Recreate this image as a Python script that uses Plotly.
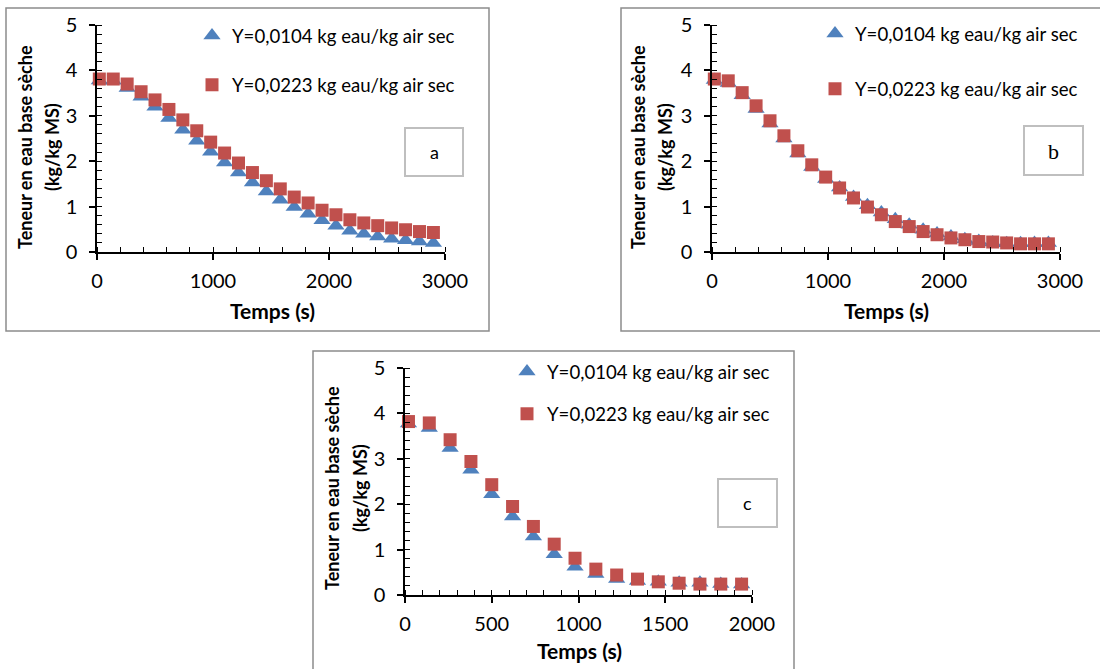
import plotly.graph_objects as go

W, H = 1100, 669


def px(x):
    return x / W


def py(y):
    return 1 - y / H


# ---------------- data ----------------
time_ab = [20, 140, 260, 380, 500, 620, 740, 860, 980, 1100, 1220, 1340, 1460,
           1580, 1700, 1820, 1940, 2060, 2180, 2300, 2420, 2540, 2660, 2780, 2900]
time_c = [20, 140, 260, 380, 500, 620, 740, 860, 980, 1100, 1220, 1340, 1460,
          1580, 1700, 1820, 1940]

a_low = [3.78, 3.77, 3.61, 3.42, 3.20, 2.95, 2.69, 2.45, 2.21, 1.97, 1.75, 1.53, 1.33,
         1.15, 0.99, 0.84, 0.70, 0.58, 0.47, 0.40, 0.34, 0.29, 0.26, 0.23, 0.20]
a_high = [3.81, 3.81, 3.70, 3.53, 3.35, 3.14, 2.91, 2.67, 2.42, 2.18, 1.96, 1.75, 1.57,
          1.39, 1.21, 1.08, 0.92, 0.82, 0.71, 0.64, 0.58, 0.53, 0.49, 0.45, 0.43]

b_low = [3.79, 3.72, 3.45, 3.15, 2.83, 2.50, 2.17, 1.87, 1.61, 1.42, 1.21, 1.03, 0.87,
         0.72, 0.60, 0.49, 0.41, 0.34, 0.28, 0.24, 0.21, 0.19, 0.19, 0.20, 0.20]
b_high = [3.81, 3.77, 3.51, 3.22, 2.89, 2.56, 2.23, 1.92, 1.65, 1.41, 1.19, 0.99, 0.82,
          0.67, 0.56, 0.45, 0.38, 0.31, 0.27, 0.23, 0.22, 0.20, 0.18, 0.18, 0.18]

c_low = [3.78, 3.68, 3.24, 2.76, 2.22, 1.73, 1.29, 0.90, 0.62, 0.46, 0.35, 0.31, 0.29,
         0.27, 0.27, 0.24, 0.23]
c_high = [3.82, 3.79, 3.42, 2.94, 2.43, 1.95, 1.51, 1.12, 0.81, 0.57, 0.44, 0.35, 0.29,
          0.26, 0.24, 0.24, 0.24]

name_low = "Y=0,0104 kg eau/kg air sec"
name_high = "Y=0,0223 kg eau/kg air sec"
y_title_1 = "Teneur en eau base sèche"
y_title_2 = "(kg/kg MS)"
x_title = "Temps (s)"
x_ticks_ab = [0, 1000, 2000, 3000]
x_ticks_c = [0, 500, 1000, 1500, 2000]
y_ticks = [0, 1, 2, 3, 4, 5]

BLUE = "#4F81BD"
RED = "#C0504D"
FONT = "Lato"
FS = 18.6
FS_TICK = 20

fig = go.Figure()

panels = [
    (time_ab, a_low, a_high, "x", "y", "legend"),
    (time_ab, b_low, b_high, "x2", "y2", "legend2"),
    (time_c, c_low, c_high, "x3", "y3", "legend3"),
]
for i, (t, lo, hi, xa, ya, lg) in enumerate(panels):
    fig.add_trace(go.Scatter(
        x=t, y=lo, mode="markers", name=name_low, xaxis=xa, yaxis=ya, legend=lg,
        legendgroup=f"lo{i}", cliponaxis=False,
        marker=dict(symbol="triangle-up", size=15, color=BLUE, line=dict(width=0))))
    fig.add_trace(go.Scatter(
        x=t, y=hi, mode="markers", name=name_high, xaxis=xa, yaxis=ya, legend=lg,
        legendgroup=f"hi{i}", cliponaxis=False,
        marker=dict(symbol="square", size=13, color=RED, line=dict(width=0))))


def xax(domain, rng, ticks, anchor, minor):
    return dict(domain=domain, range=rng, tickvals=ticks, anchor=anchor, automargin=False,
                showline=True, linecolor="black", linewidth=1.5,
                ticks="outside", ticklen=6, tickwidth=1.5, tickcolor="black",
                ticklabelstandoff=4,
                minor=dict(ticks="inside", ticklen=5, dtick=minor, tickcolor="black", tickwidth=1.2),
                showgrid=False, zeroline=False, fixedrange=True,
                tickfont=dict(family=FONT, size=FS_TICK, color="black"))


def yax(domain, anchor):
    return dict(domain=domain, range=[0, 5], tickvals=y_ticks, anchor=anchor, automargin=False,
                showline=True, linecolor="black", linewidth=1.5,
                ticks="outside", ticklen=6, tickwidth=1.5, tickcolor="black",
                ticklabelstandoff=8,
                minor=dict(ticks="inside", ticklen=5, dtick=0.2, tickcolor="black", tickwidth=1.2),
                showgrid=False, zeroline=False, fixedrange=True,
                tickfont=dict(family=FONT, size=FS_TICK, color="black"))


A = dict(x0=97, x1=445, y0=25, y1=252)
B = dict(x0=712, x1=1060, y0=25, y1=252)
C = dict(x0=405, x1=752, y0=368, y1=595)

fig.update_layout(
    xaxis=xax([px(A["x0"]), px(A["x1"])], [0, 3000], x_ticks_ab, "y", 200),
    yaxis=yax([py(A["y1"]), py(A["y0"])], "x"),
    xaxis2=xax([px(B["x0"]), px(B["x1"])], [0, 3000], x_ticks_ab, "y2", 200),
    yaxis2=yax([py(B["y1"]), py(B["y0"])], "x2"),
    xaxis3=xax([px(C["x0"]), px(C["x1"])], [0, 2000], x_ticks_c, "y3", 100),
    yaxis3=yax([py(C["y1"]), py(C["y0"])], "x3"),
)

leg_common = dict(font=dict(family=FONT, size=FS, color="black"), bgcolor="rgba(0,0,0,0)",
                  xanchor="left", yanchor="top", itemwidth=30, itemclick=False,
                  itemdoubleclick=False)
fig.update_layout(
    legend=dict(x=px(192), y=py(17), tracegroupgap=22, **leg_common),
    legend2=dict(x=px(815), y=py(15), tracegroupgap=28, **leg_common),
    legend3=dict(x=px(507), y=py(353), tracegroupgap=15, **leg_common),
)

shapes = []
for (x0, y0, x1, y1) in [(6, 8, 489, 331), (621, 8, 1106, 331), (313, 351, 794, 680)]:
    shapes.append(dict(type="rect", xref="paper", yref="paper",
                       x0=px(x0), x1=px(x1), y0=py(y1), y1=py(y0),
                       line=dict(color="#8c8c8c", width=1.5), fillcolor="rgba(0,0,0,0)"))
for (x0, y0, x1, y1) in [(405, 128, 463, 176), (1024, 126, 1083, 175), (718, 479, 777, 527)]:
    shapes.append(dict(type="rect", xref="paper", yref="paper",
                       x0=px(x0), x1=px(x1), y0=py(y1), y1=py(y0),
                       line=dict(color="#bfbfbf", width=2), fillcolor="white"))

annotations = []
for (txt, x, y, fam, sz) in [("a", 434, 152, FONT, 18), ("b", 1053, 151, "Liberation Serif", 22),
                             ("c", 747, 503, FONT, 18)]:
    annotations.append(dict(text=txt, x=px(x), y=py(y), xref="paper", yref="paper",
                            showarrow=False, xanchor="center", yanchor="middle",
                            font=dict(family=fam, size=sz, color="black")))
for (x1, x2, yc) in [(25, 52, 147), (638, 665, 147), (332, 360, 488)]:
    annotations.append(dict(text=f"<b>{y_title_1}</b>", x=px(x1), y=py(yc), xref="paper",
                            yref="paper", showarrow=False, textangle=-90,
                            xanchor="center", yanchor="middle",
                            font=dict(family=FONT, size=18, color="black")))
    annotations.append(dict(text=f"<b>{y_title_2}</b>", x=px(x2), y=py(yc), xref="paper",
                            yref="paper", showarrow=False, textangle=-90,
                            xanchor="center", yanchor="middle",
                            font=dict(family=FONT, size=18, color="black")))
for (xc, yc) in [(272, 310), (886, 310), (579, 650)]:
    annotations.append(dict(text=f"<b>{x_title}</b>", x=px(xc), y=py(yc), xref="paper",
                            yref="paper", showarrow=False, xanchor="center", yanchor="middle",
                            font=dict(family=FONT, size=21, color="black")))

fig.update_layout(
    width=W, height=H, margin=dict(l=0, r=0, t=0, b=0, autoexpand=False),
    paper_bgcolor="white", plot_bgcolor="rgba(0,0,0,0)",
    shapes=shapes, annotations=annotations, showlegend=True,
    font=dict(family=FONT, color="black"),
)

fig.write_html("out.html", config={"displayModeBar": False},
               post_script="document.body.style.margin='0';document.body.style.overflow='hidden';")
